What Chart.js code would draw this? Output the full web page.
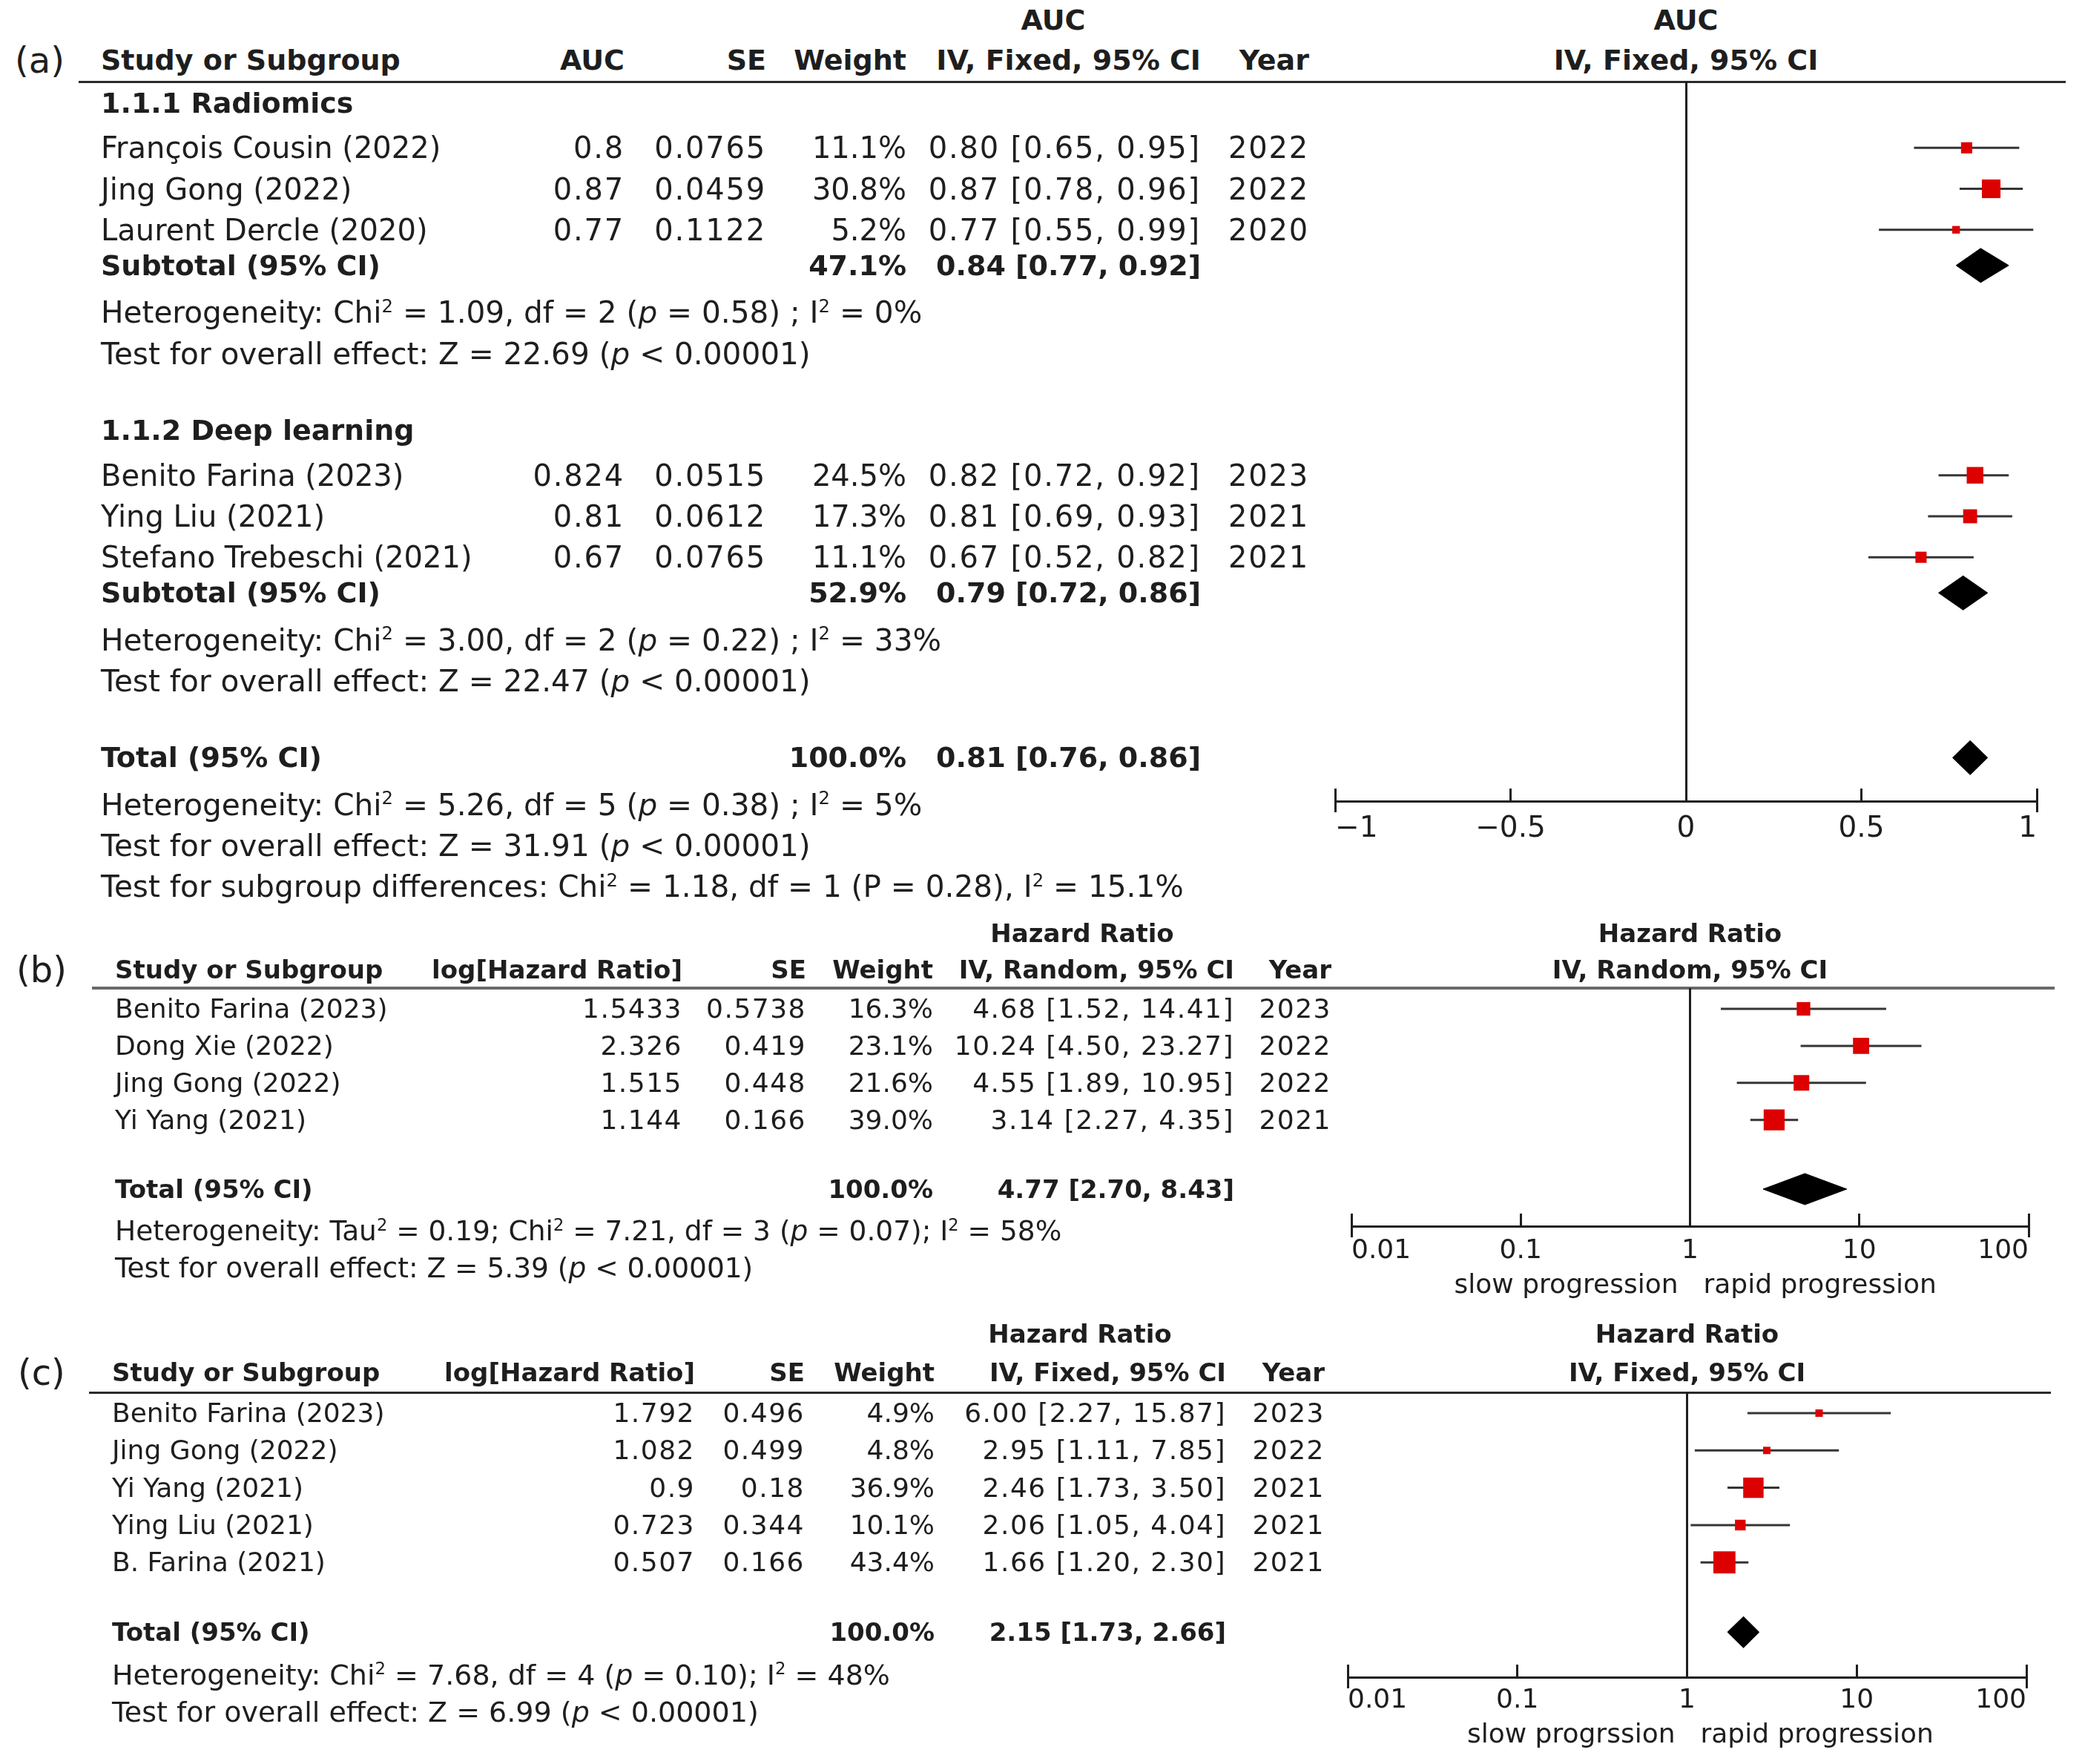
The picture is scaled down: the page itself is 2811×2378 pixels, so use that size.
<!DOCTYPE html>
<html>
<head>
<meta charset="utf-8">
<title>Forest plots</title>
<script src="https://cdn.jsdelivr.net/npm/chart.js@4.4.1/dist/chart.umd.min.js"></script>
<style>
    html, body { margin: 0; padding: 0; background: #fff; }
    #page { position: relative; width: 2811px; height: 2378px; overflow: hidden; background: #fff;
            font-family: 'DejaVu Sans', Verdana, sans-serif; color: #1e1e1e; }
    .t { position: absolute; white-space: nowrap; line-height: 1; }
    .b { font-weight: bold; }
    .rule { position: absolute; }
    canvas { position: absolute; left: 0; }
    sup { font-size: 0.6em; position: relative; top: -0.6em; line-height: 0; vertical-align: baseline; }
</style>
</head>
<body>
<div id="page"></div>
<script>
// (a) AUC, IV fixed, two subgroups
const aGroups = ['1.1.1 Radiomics', '1.1.2 Deep learning'];
const aStudies = ['François Cousin (2022)', 'Jing Gong (2022)', 'Laurent Dercle (2020)',
                  'Benito Farina (2023)', 'Ying Liu (2021)', 'Stefano Trebeschi (2021)'];
const aGroupOf = [0, 0, 0, 1, 1, 1];
const aAUC = [0.8, 0.87, 0.77, 0.824, 0.81, 0.67];
const aSE = [0.0765, 0.0459, 0.1122, 0.0515, 0.0612, 0.0765];
const aWeight = [11.1, 30.8, 5.2, 24.5, 17.3, 11.1];
const aLow = [0.65, 0.78, 0.55, 0.72, 0.69, 0.52];
const aHigh = [0.95, 0.96, 0.99, 0.92, 0.93, 0.82];
const aYear = [2022, 2022, 2020, 2023, 2021, 2021];
const aPoolLabel = ['Subtotal (95% CI)', 'Subtotal (95% CI)', 'Total (95% CI)'];
const aPoolWeight = [47.1, 52.9, 100.0];
const aPoolEst = [0.84, 0.79, 0.81];
const aPoolLow = [0.77, 0.72, 0.76];
const aPoolHigh = [0.92, 0.86, 0.86];
const aStats = [
    ['Heterogeneity: Chi<sup>2</sup> = 1.09, df = 2 (<i>p</i> = 0.58) ; I<sup>2</sup> = 0%',
     'Test for overall effect: Z = 22.69 (<i>p</i> &lt; 0.00001)'],
    ['Heterogeneity: Chi<sup>2</sup> = 3.00, df = 2 (<i>p</i> = 0.22) ; I<sup>2</sup> = 33%',
     'Test for overall effect: Z = 22.47 (<i>p</i> &lt; 0.00001)'],
    ['Heterogeneity: Chi<sup>2</sup> = 5.26, df = 5 (<i>p</i> = 0.38) ; I<sup>2</sup> = 5%',
     'Test for overall effect: Z = 31.91 (<i>p</i> &lt; 0.00001)',
     'Test for subgroup differences: Chi<sup>2</sup> = 1.18, df = 1 (P = 0.28), I<sup>2</sup> = 15.1%']
];
const aTicks = [-1, -0.5, 0, 0.5, 1];

// (b) hazard ratio, IV random
const bStudies = ['Benito Farina (2023)', 'Dong Xie (2022)', 'Jing Gong (2022)', 'Yi Yang (2021)'];
const bLogHR = [1.5433, 2.326, 1.515, 1.144];
const bSE = [0.5738, 0.419, 0.448, 0.166];
const bWeight = [16.3, 23.1, 21.6, 39.0];
const bHR = [4.68, 10.24, 4.55, 3.14];
const bLow = [1.52, 4.50, 1.89, 2.27];
const bHigh = [14.41, 23.27, 10.95, 4.35];
const bYear = [2023, 2022, 2022, 2021];
const bPoolLabel = ['Total (95% CI)'];
const bPoolWeight = [100.0];
const bPoolEst = [4.77];
const bPoolLow = [2.70];
const bPoolHigh = [8.43];
const bStats = [
    ['Heterogeneity: Tau<sup>2</sup> = 0.19; Chi<sup>2</sup> = 7.21, df = 3 (<i>p</i> = 0.07); I<sup>2</sup> = 58%',
     'Test for overall effect: Z = 5.39 (<i>p</i> &lt; 0.00001)']
];
const bTicks = [0.01, 0.1, 1, 10, 100];

// (c) hazard ratio, IV fixed
const cStudies = ['Benito Farina (2023)', 'Jing Gong (2022)', 'Yi Yang (2021)', 'Ying Liu (2021)', 'B. Farina (2021)'];
const cLogHR = [1.792, 1.082, 0.9, 0.723, 0.507];
const cSE = [0.496, 0.499, 0.18, 0.344, 0.166];
const cWeight = [4.9, 4.8, 36.9, 10.1, 43.4];
const cHR = [6.00, 2.95, 2.46, 2.06, 1.66];
const cLow = [2.27, 1.11, 1.73, 1.05, 1.20];
const cHigh = [15.87, 7.85, 3.50, 4.04, 2.30];
const cYear = [2023, 2022, 2021, 2021, 2021];
const cPoolLabel = ['Total (95% CI)'];
const cPoolWeight = [100.0];
const cPoolEst = [2.15];
const cPoolLow = [1.73];
const cPoolHigh = [2.66];
const cStats = [
    ['Heterogeneity: Chi<sup>2</sup> = 7.68, df = 4 (<i>p</i> = 0.10); I<sup>2</sup> = 48%',
     'Test for overall effect: Z = 6.99 (<i>p</i> &lt; 0.00001)']
];
const cTicks = [0.01, 0.1, 1, 10, 100];

const FONT = "'DejaVu Sans', Verdana, sans-serif";
const INK = '#1e1e1e';
// vertical advance (in row steps) between consecutive table rows, by kind
const ADV = {
    'head>study': 1.1, 'study>study': 1, 'study>pool': 0.87, 'pool>stat': 1.15,
    'stat>stat': 1, 'stat>gap': 0.94, 'study>gap': 0.94, 'gap>head': 0.93, 'gap>pool': 0.93
};
const page = document.getElementById('page');

function addText(html, x, y, size, align, bold, spacing) {
    const el = document.createElement('div');
    el.className = bold ? 't b' : 't';
    el.innerHTML = html;
    el.style.fontSize = size + 'px';
    el.style.left = x + 'px';
    el.style.top = y + 'px';
    if (spacing) el.style.letterSpacing = spacing + 'px';
    const shift = align === 'right' ? '-100%' : (align === 'center' ? '-50%' : '0');
    el.style.transform = 'translate(' + shift + ', -50%)';
    page.appendChild(el);
}

const ciText = (e, l, h) => e.toFixed(2) + ' [' + l.toFixed(2) + ', ' + h.toFixed(2) + ']';
const pct = w => w.toFixed(1) + '%';

// table rows in order: subgroup heading, studies, subtotal, stats, blank ...
function buildRows(P) {
    const rows = [];
    if (P.groups) {
        P.groups.forEach((g, gi) => {
            rows.push({ kind: 'head', text: g });
            P.studies.forEach((s, i) => { if (P.groupOf[i] === gi) rows.push({ kind: 'study', i: i }); });
            rows.push({ kind: 'pool', j: gi });
            P.stats[gi].forEach(t => rows.push({ kind: 'stat', text: t }));
            rows.push({ kind: 'gap' });
        });
    } else {
        P.studies.forEach((s, i) => rows.push({ kind: 'study', i: i }));
        rows.push({ kind: 'gap' });
    }
    const last = P.poolLabel.length - 1;
    rows.push({ kind: 'pool', j: last });
    P.stats[last].forEach(t => rows.push({ kind: 'stat', text: t }));
    // row position on the y scale
    let pos = 0;
    rows.forEach((r, k) => {
        if (k > 0) pos += ADV[rows[k - 1].kind + '>' + r.kind] || 1;
        r.pos = pos;
    });
    return rows;
}

function drawPanel(P) {
    const L = P.layout;
    const c = L.cols;
    const rows = buildRows(P);

    // header rule
    const rule = document.createElement('div');
    rule.className = 'rule';
    rule.style.left = L.rule[0] + 'px';
    rule.style.width = (L.rule[1] - L.rule[0]) + 'px';
    rule.style.top = (L.ruleY - L.ruleW / 2) + 'px';
    rule.style.height = L.ruleW + 'px';
    rule.style.background = L.ruleColor;
    page.appendChild(rule);

    // forest plot marks
    const datasets = [];
    const squares = [];
    rows.forEach(r => {
        const k = r.pos;
        if (r.kind === 'study') {
            datasets.push({
                type: 'line',
                data: [{ x: P.low[r.i], y: k }, { x: P.high[r.i], y: k }],
                borderColor: '#353535', borderWidth: 3, pointRadius: 0, order: 2
            });
            squares.push({ x: P.est[r.i], y: k, w: P.weight[r.i] });
        }
        if (r.kind === 'pool') {
            const j = r.j, d = L.diamond / L.step;
            datasets.push({
                type: 'line',
                data: [
                    { x: P.poolLow[j], y: k }, { x: P.poolEst[j], y: k - d },
                    { x: P.poolHigh[j], y: k }, { x: P.poolEst[j], y: k + d },
                    { x: P.poolLow[j], y: k }
                ],
                borderColor: '#000', backgroundColor: '#000', borderWidth: 1,
                pointRadius: 0, fill: 'shape', order: 1
            });
        }
    });
    datasets.push({
        type: 'scatter',
        data: squares,
        pointStyle: 'rect',
        pointRadius: squares.map(s => L.sq * Math.sqrt(s.w)),
        backgroundColor: '#dd0000', borderWidth: 0, order: 0
    });

    const cv = document.createElement('canvas');
    const h = L.axisY - L.ruleY + 220;
    cv.width = 2811;
    cv.height = h;
    cv.style.width = '2811px';
    cv.style.height = h + 'px';
    cv.style.top = L.ruleY + 'px';
    page.appendChild(cv);

    const tickLen = 17;
    const yMax = (L.axisY - L.row0) / L.step;
    const ends = [P.ticks[0], P.ticks[P.ticks.length - 1]];
    const pad = { left: L.xLeft, right: 2811 - L.xRight, top: 0, bottom: 0 };
    const cfg = {
        type: 'scatter',
        data: { datasets: datasets },
        options: {
            responsive: false,
            maintainAspectRatio: false,
            animation: false,
            devicePixelRatio: 1,
            events: [],
            layout: { padding: pad, autoPadding: false },
            plugins: { legend: { display: false }, tooltip: { enabled: false } },
            scales: {
                x: {
                    type: P.scaleType,
                    position: 'bottom',
                    min: ends[0],
                    max: ends[1],
                    afterBuildTicks: s => { s.ticks = P.ticks.map(v => ({ value: v })); },
                    grid: { drawOnChartArea: false, drawTicks: true, tickLength: -tickLen, color: INK, lineWidth: 3 },
                    border: { display: true, color: INK, width: 3 },
                    ticks: {
                        color: INK,
                        font: { family: FONT, size: L.tickSize },
                        padding: L.tickD + tickLen - 0.6 * L.tickSize,
                        align: 'inner',
                        maxRotation: 0,
                        autoSkip: false,
                        callback: v => (v < 0 ? '\u2212' + Math.abs(v) : String(v))
                    }
                },
                // end ticks reach below the axis line
                xEnds: {
                    type: P.scaleType,
                    position: { y: yMax },
                    min: ends[0],
                    max: ends[1],
                    afterBuildTicks: s => { s.ticks = ends.map(v => ({ value: v })); },
                    grid: { drawOnChartArea: false, drawTicks: true, tickLength: 15, color: INK, lineWidth: 3 },
                    border: { display: false },
                    ticks: { display: false }
                },
                y: {
                    type: 'linear',
                    reverse: true,
                    position: { x: P.refX },
                    min: (L.ruleY - L.row0) / L.step,
                    max: yMax,
                    ticks: { display: false },
                    grid: { drawOnChartArea: false, drawTicks: false },
                    border: { display: true, color: INK, width: 3 }
                }
            }
        }
    };
    const chart = new Chart(cv, cfg);
    // pull the axis line onto the wanted row
    pad.bottom = Math.max(0, L.ruleY + chart.chartArea.bottom - L.axisY);
    chart.update();

    const area = chart.chartArea;
    const mid = (area.left + area.right) / 2;
    const yAt = v => L.ruleY + chart.scales.y.getPixelForValue(v);
    const ls = L.numSpacing;

    // headers
    addText(P.tag, L.tagX, L.head2Y, 48, 'left', false);
    addText(P.head1, L.head1X, L.head1Y, L.bold, 'center', true);
    addText(P.head1, mid, L.head1Y, L.bold, 'center', true);
    addText('Study or Subgroup', c.name, L.head2Y, L.bold, 'left', true);
    addText(P.col1Head, c.c1, L.head2Y, L.bold, 'right', true);
    addText('SE', c.se, L.head2Y, L.bold, 'right', true);
    addText('Weight', c.w, L.head2Y, L.bold, 'right', true);
    addText(P.method, c.ci, L.head2Y, L.bold, 'right', true);
    addText('Year', c.yr, L.head2Y, L.bold, 'right', true);
    addText(P.method, mid, L.head2Y, L.bold, 'center', true);

    rows.forEach(r => {
        const y = yAt(r.pos);
        if (r.kind === 'head') {
            addText(r.text, c.name, y, L.bold, 'left', true);
        } else if (r.kind === 'study') {
            const i = r.i;
            addText(P.studies[i], c.name, y, L.size, 'left', false);
            addText(String(P.col1[i]), c.c1, y, L.size, 'right', false, ls);
            addText(String(P.se[i]), c.se, y, L.size, 'right', false, ls);
            addText(pct(P.weight[i]), c.w, y, L.size, 'right', false);
            addText(ciText(P.est[i], P.low[i], P.high[i]), c.ci, y, L.size, 'right', false, ls);
            addText(String(P.year[i]), c.yr, y, L.size, 'right', false, ls);
        } else if (r.kind === 'pool') {
            const j = r.j;
            addText(P.poolLabel[j], c.name, y, L.bold, 'left', true);
            addText(pct(P.poolWeight[j]), c.w, y, L.bold, 'right', true);
            addText(ciText(P.poolEst[j], P.poolLow[j], P.poolHigh[j]), c.ci, y, L.bold, 'right', true);
        } else if (r.kind === 'stat') {
            addText(r.text, c.name, y, L.statSize, 'left', false);
        }
    });

    if (P.side) {
        const x1 = chart.scales.x.getPixelForValue(P.refX);
        addText(P.side[0], x1 - 16, L.sideY, L.size, 'right', false);
        addText(P.side[1], x1 + 18, L.sideY, L.size, 'left', false);
    }
}

drawPanel({
    tag: '(a)', head1: 'AUC', col1Head: 'AUC', method: 'IV, Fixed, 95% CI',
    groups: aGroups, groupOf: aGroupOf, studies: aStudies,
    col1: aAUC, se: aSE, weight: aWeight, est: aAUC, low: aLow, high: aHigh, year: aYear,
    poolLabel: aPoolLabel, poolWeight: aPoolWeight, poolEst: aPoolEst, poolLow: aPoolLow, poolHigh: aPoolHigh,
    stats: aStats, ticks: aTicks, scaleType: 'linear', refX: 0, side: null,
    layout: {
        size: 40, bold: 38, statSize: 40.6, numSpacing: 1.8, tagX: 20, head1Y: 27, head2Y: 81, head1X: 1420,
        ruleY: 110, rule: [106, 2785], ruleW: 3, ruleColor: '#2a2a2a',
        row0: 138.5, step: 55.25,
        cols: { name: 136, c1: 842, se: 1033, w: 1222, ci: 1619, yr: 1765 },
        xLeft: 1800, xRight: 2746, axisY: 1080, tickSize: 39, tickD: 38,
        diamond: 23, sq: 3.2
    }
});

drawPanel({
    tag: '(b)', head1: 'Hazard Ratio', col1Head: 'log[Hazard Ratio]', method: 'IV, Random, 95% CI',
    groups: null, studies: bStudies,
    col1: bLogHR, se: bSE, weight: bWeight, est: bHR, low: bLow, high: bHigh, year: bYear,
    poolLabel: bPoolLabel, poolWeight: bPoolWeight, poolEst: bPoolEst, poolLow: bPoolLow, poolHigh: bPoolHigh,
    stats: bStats, ticks: bTicks, scaleType: 'logarithmic', refX: 1,
    side: ['slow progression', 'rapid progression'],
    layout: {
        size: 36, bold: 34, statSize: 37.5, numSpacing: 1.5, tagX: 22, head1Y: 1258, head2Y: 1307, head1X: 1459,
        ruleY: 1332, rule: [124, 2770], ruleW: 4, ruleColor: '#6a6a6a',
        row0: 1360, step: 49.9,
        cols: { name: 155, c1: 920, se: 1087, w: 1258, ci: 1664, yr: 1795 },
        xLeft: 1822, xRight: 2735, axisY: 1653, tickSize: 36, tickD: 34, sideY: 1731,
        diamond: 21, sq: 3.2
    }
});

drawPanel({
    tag: '(c)', head1: 'Hazard Ratio', col1Head: 'log[Hazard Ratio]', method: 'IV, Fixed, 95% CI',
    groups: null, studies: cStudies,
    col1: cLogHR, se: cSE, weight: cWeight, est: cHR, low: cLow, high: cHigh, year: cYear,
    poolLabel: cPoolLabel, poolWeight: cPoolWeight, poolEst: cPoolEst, poolLow: cPoolLow, poolHigh: cPoolHigh,
    stats: cStats, ticks: cTicks, scaleType: 'logarithmic', refX: 1,
    side: ['slow progrssion', 'rapid progression'],
    layout: {
        size: 36, bold: 34, statSize: 38, numSpacing: 1.5, tagX: 24, head1Y: 1798, head2Y: 1850, head1X: 1456,
        ruleY: 1877, rule: [120, 2765], ruleW: 3, ruleColor: '#2a2a2a',
        row0: 1905, step: 50.3,
        cols: { name: 151, c1: 937, se: 1085, w: 1260, ci: 1653, yr: 1786 },
        xLeft: 1817, xRight: 2732, axisY: 2261, tickSize: 36, tickD: 32, sideY: 2337,
        diamond: 21, sq: 3.2
    }
});
</script>
</body>
</html>
